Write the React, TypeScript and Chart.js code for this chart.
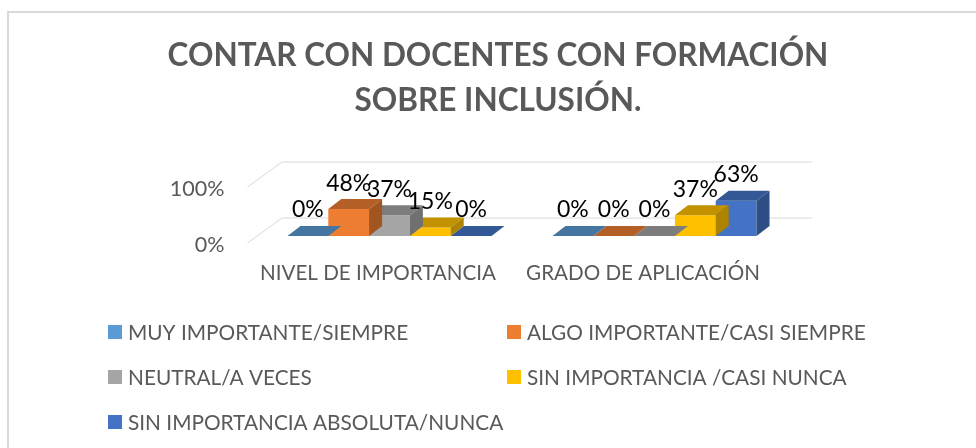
import React, { useEffect, useRef } from "react";
import { Chart, registerables } from "chart.js";

Chart.register(...registerables);

const titleLines = ["CONTAR CON DOCENTES CON FORMACIÓN", "SOBRE INCLUSIÓN."];
const categories = ["NIVEL DE IMPORTANCIA", "GRADO DE APLICACIÓN"];
const seriesNames = [
  "MUY IMPORTANTE/SIEMPRE",
  "ALGO IMPORTANTE/CASI SIEMPRE",
  "NEUTRAL/A VECES",
  "SIN IMPORTANCIA /CASI NUNCA",
  "SIN IMPORTANCIA ABSOLUTA/NUNCA",
];
const muyImportante = [0, 0];
const algoImportante = [48, 0];
const neutral = [37, 0];
const sinImportancia = [15, 37];
const sinImportanciaAbsoluta = [0, 63];
const yTicks = [0, 100];

const seriesValues = [muyImportante, algoImportante, neutral, sinImportancia, sinImportanciaAbsoluta];
const seriesColors = ["#5B9BD5", "#ED7D31", "#A5A5A5", "#FFC000", "#4472C4"];

const FONT = "Lato, 'Open Sans', sans-serif";
const GREY = "#595959";
const GRID = "#d9d9d9";
// perspective offsets
const BAR_DX = 13, BAR_DY = -10;
const FRONT_DX = -9.5, FRONT_DY = 7;
const BACK_DX = 25, BACK_DY = -18;

function shade(hex: string, f: number) {
  const n = parseInt(hex.slice(1), 16);
  const r = Math.round(((n >> 16) & 255) * f);
  const g = Math.round(((n >> 8) & 255) * f);
  const b = Math.round((n & 255) * f);
  return `rgb(${r},${g},${b})`;
}

const deco3d = {
  id: "deco3d",
  beforeDraw(chart: any) {
    const ctx = chart.ctx;
    ctx.save();
    ctx.fillStyle = "#ffffff";
    ctx.fillRect(0, 0, chart.width, chart.height);
    ctx.fillStyle = GRID;
    ctx.fillRect(7, 11, 2, chart.height - 11);
    ctx.fillRect(7, 11, chart.width - 7, 2);
    // title
    ctx.fillStyle = GREY;
    ctx.font = `bold 31.5px ${FONT}`;
    ctx.textAlign = "center";
    ctx.textBaseline = "middle";
    titleLines.forEach((t, i) => ctx.fillText(t, 498, 56 + i * 45));
    ctx.restore();
  },
  beforeDatasetsDraw(chart: any) {
    const ctx = chart.ctx;
    const ys = chart.scales.y;
    const xs = chart.scales.x;
    const { left, right } = chart.chartArea;
    ctx.save();
    ctx.strokeStyle = GRID;
    ctx.lineWidth = 1;
    yTicks.forEach((v) => {
      const y = ys.getPixelForValue(v);
      ctx.beginPath();
      ctx.moveTo(left + FRONT_DX, y + FRONT_DY);
      ctx.lineTo(left + BACK_DX, y + BACK_DY);
      ctx.lineTo(right + BACK_DX, y + BACK_DY);
      ctx.stroke();
      ctx.fillStyle = GREY;
      ctx.font = `21.5px ${FONT}`;
      ctx.textAlign = "right";
      ctx.textBaseline = "middle";
      ctx.fillText(v + "%", left + FRONT_DX - 23, y + FRONT_DY + 2);
    });
    ctx.fillStyle = GREY;
    ctx.font = `20.6px ${FONT}`;
    ctx.textAlign = "center";
    ctx.textBaseline = "middle";
    categories.forEach((c, i) => {
      ctx.fillText(c, xs.getPixelForValue(i) + FRONT_DX - 2, 273);
    });
    ctx.restore();
  },
  afterDatasetDraw(chart: any, args: any) {
    const ctx = chart.ctx;
    const meta = args.meta;
    const color = seriesColors[args.index];
    ctx.save();
    meta.data.forEach((el: any) => {
      const { x, y, base, width } = el.getProps(["x", "y", "base", "width"], true);
      const l = x - width / 2;
      const r = x + width / 2;
      ctx.fillStyle = shade(color, 0.76);
      ctx.beginPath();
      ctx.moveTo(l, y);
      ctx.lineTo(r, y);
      ctx.lineTo(r + BAR_DX, y + BAR_DY);
      ctx.lineTo(l + BAR_DX, y + BAR_DY);
      ctx.closePath();
      ctx.fill();
      if (base - y > 0.5) {
        ctx.fillStyle = shade(color, 0.68);
        ctx.beginPath();
        ctx.moveTo(r, y);
        ctx.lineTo(r + BAR_DX, y + BAR_DY);
        ctx.lineTo(r + BAR_DX, base + BAR_DY);
        ctx.lineTo(r, base);
        ctx.closePath();
        ctx.fill();
      }
    });
    ctx.restore();
  },
  afterDatasetsDraw(chart: any) {
    const ctx = chart.ctx;
    ctx.save();
    ctx.fillStyle = "#000000";
    ctx.font = `23px ${FONT}`;
    ctx.textAlign = "center";
    ctx.textBaseline = "middle";
    chart.data.datasets.forEach((ds: any, i: number) => {
      const meta = chart.getDatasetMeta(i);
      meta.data.forEach((el: any, j: number) => {
        const { x, y } = el.getProps(["x", "y"], true);
        ctx.fillText(Math.round(ds.data[j]) + "%", x, y + BAR_DY - 16);
      });
    });
    // legend
    ctx.font = `20.8px ${FONT}`;
    ctx.textAlign = "left";
    chart.data.datasets.forEach((ds: any, i: number) => {
      const col = i % 2;
      const row = Math.floor(i / 2);
      const sx = 108 + col * 399;
      const cy = 332 + row * 45;
      ctx.fillStyle = ds.backgroundColor;
      ctx.fillRect(sx, cy - 7, 14, 14);
      ctx.fillStyle = GREY;
      ctx.fillText(ds.label, sx + 20, cy + 1);
    });
    ctx.restore();
  },
};

export default function App() {
  const ref = useRef<HTMLCanvasElement>(null);
  useEffect(() => {
    if (!ref.current) return;
    const chart = new Chart(ref.current, {
      type: "bar",
      data: {
        labels: categories,
        datasets: seriesNames.map((name, i) => ({
          label: name,
          data: seriesValues[i],
          backgroundColor: seriesColors[i],
          borderWidth: 0,
          categoryPercentage: 0.77,
          barPercentage: 1,
        })),
      },
      options: {
        responsive: false,
        animation: false,
        devicePixelRatio: 1,
        layout: { padding: { left: 257, right: 189, top: 180, bottom: 212 } },
        scales: {
          x: { display: false },
          y: { display: false, min: 0, max: 100 },
        },
        plugins: {
          legend: { display: false },
          title: { display: false },
          tooltip: { enabled: false },
        },
      },
      plugins: [deco3d],
    });
    return () => chart.destroy();
  }, []);
  return (
    <div style={{ position: "fixed", left: 0, top: 0, width: 976, height: 448 }}>
      <canvas ref={ref} width={976} height={448} />
    </div>
  );
}
